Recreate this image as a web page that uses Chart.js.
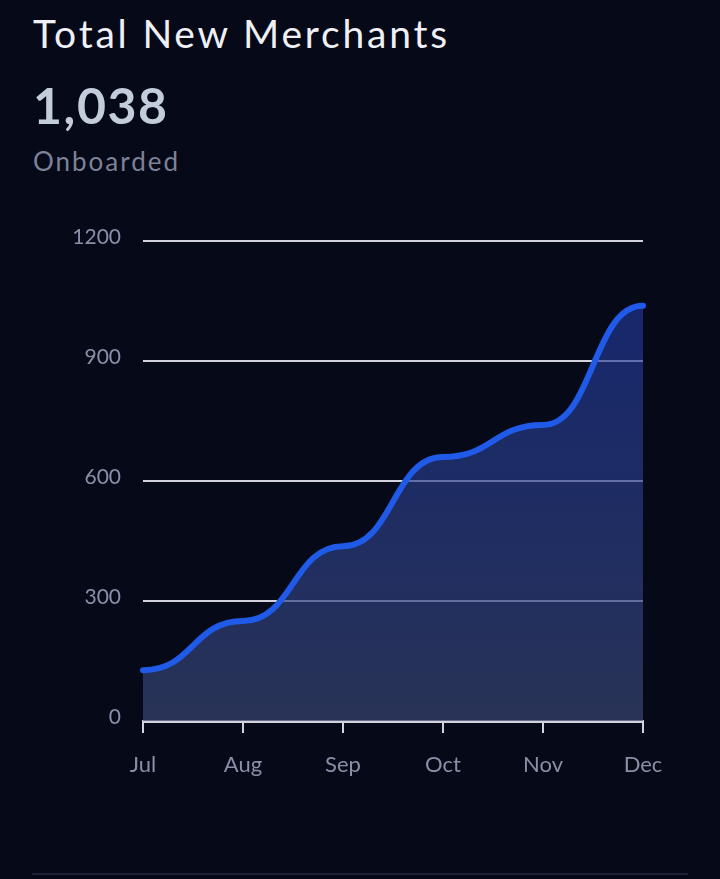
<!DOCTYPE html>
<html>
<head>
<meta charset="utf-8">
<script src="https://cdn.jsdelivr.net/npm/chart.js@4.4.1/dist/chart.umd.min.js"></script>
<style>
  html, body { margin: 0; padding: 0; background: #060917; width: 720px; height: 879px; overflow: hidden; font-family: "Lato", "Noto Sans", sans-serif; }
  .title { position: absolute; left: 33px; top: 14px; font-size: 39px; color: #eef0f6; line-height: 1; letter-spacing: 2.8px; }
  .big { position: absolute; left: 33px; top: 80px; font-size: 50px; font-weight: 700; color: #c3ccda; line-height: 1; letter-spacing: 1.6px; }
  .sub { position: absolute; left: 33px; top: 148px; font-size: 26px; color: #7d8299; line-height: 1; letter-spacing: 2px; }
  .wrap { position: absolute; left: 0; top: 200px; width: 720px; height: 600px; }
  .sep { position: absolute; left: 32px; top: 873px; width: 656px; height: 2px; background: #1b2138; }
</style>
</head>
<body>
<div class="title">Total New Merchants</div>
<div class="big">1,038</div>
<div class="sub">Onboarded</div>
<div class="wrap"><canvas id="chart"></canvas></div>
<div class="sep"></div>
<script>
// data
const months = ['Jul', 'Aug', 'Sep', 'Oct', 'Nov', 'Dec'];
const merchants = [127, 250, 437, 660, 740, 1038];
const yTicks = [0, 300, 600, 900, 1200];

// flat tangents at every point (bump-style curve)
const bumpCurve = {
  id: 'bumpCurve',
  fix(chart) {
    const meta = chart.getDatasetMeta(0);
    if (!meta.dataset) return;
    meta.dataset.updateControlPoints(chart.chartArea, 'x');
    const pts = meta.data;
    pts.forEach((p, i) => {
      const prev = pts[i - 1], next = pts[i + 1];
      p.cp1x = prev ? (prev.x + p.x) / 2 : p.x;
      p.cp1y = p.y;
      p.cp2x = next ? (p.x + next.x) / 2 : p.x;
      p.cp2y = p.y;
    });
  },
  beforeInit(chart) { chart.ctx.letterSpacing = '1.2px'; },
  afterDatasetsUpdate(chart) { this.fix(chart); },
  beforeDatasetsDraw(chart) { this.fix(chart); }
};

const ctx = document.getElementById('chart').getContext('2d');
new Chart(ctx, {
  type: 'line',
  data: {
    labels: months,
    datasets: [{
      data: merchants,
      borderColor: '#1f5ae8',
      borderWidth: 6,
      borderCapStyle: 'round',
      tension: 0.4,
      pointRadius: 0,
      fill: 'origin',
      backgroundColor: (c) => {
        const area = c.chart.chartArea;
        if (!area) return 'rgba(50,64,110,0.7)';
        const g = c.chart.ctx.createLinearGradient(0, area.top, 0, area.bottom);
        g.addColorStop(0, 'rgba(28,56,165,0.62)');
        g.addColorStop(1, 'rgba(55,68,112,0.72)');
        return g;
      }
    }]
  },
  options: {
    responsive: true,
    maintainAspectRatio: false,
    animation: false,
    layout: { padding: { top: 41, right: 77, left: 0, bottom: 0 } },
    plugins: { legend: { display: false }, tooltip: { enabled: false } },
    scales: {
      x: {
        offset: false,
        grid: { drawOnChartArea: false, drawTicks: true, tickLength: 12, color: '#d2d3dc', lineWidth: 2 },
        border: { display: true, color: '#d2d3dc', width: 3 },
        ticks: { color: '#8a8fa8', font: { family: 'Lato', size: 22 }, padding: 19, maxRotation: 0 },
        afterFit(scale) { scale.height = 79; }
      },
      y: {
        min: 0,
        max: 1200,
        afterBuildTicks(scale) { scale.ticks = yTicks.map(v => ({ value: v })); },
        grid: { drawTicks: false, color: '#d2d3dc', lineWidth: 2 },
        border: { display: false },
        ticks: {
          color: '#8a8fa8', font: { family: 'Lato', size: 21 }, padding: 22, labelOffset: -4,
          callback: (v) => String(v)
        },
        afterFit(scale) { scale.width = 143; }
      }
    }
  },
  plugins: [bumpCurve]
});
</script>
</body>
</html>
